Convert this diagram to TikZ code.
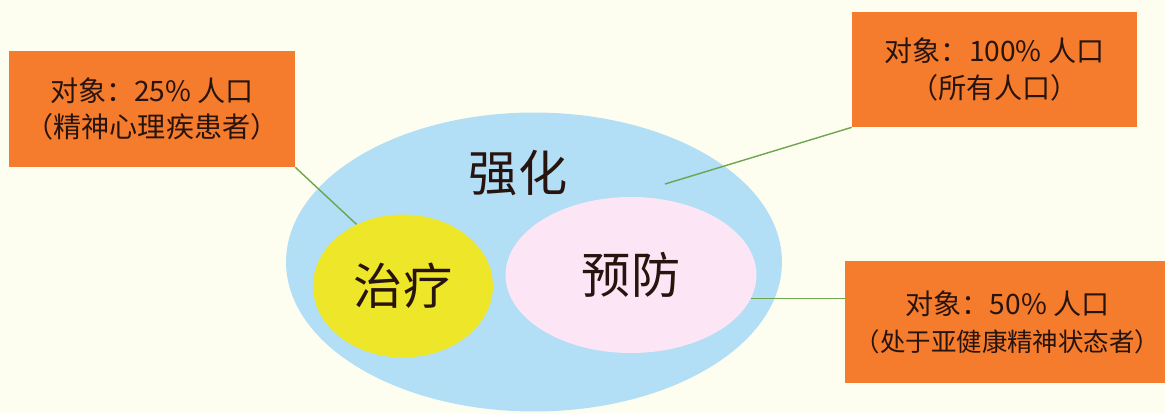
\documentclass[tikz,border=0pt]{standalone}
\usepackage{fontspec}
\setmainfont{Noto Sans CJK SC}
\usetikzlibrary{shapes.geometric}
\definecolor{bgcream}{RGB}{254,254,240}
\definecolor{skyblue}{RGB}{178,222,246}
\definecolor{lemon}{RGB}{238,230,40}
\definecolor{blush}{RGB}{252,230,246}
\definecolor{tangerine}{RGB}{244,124,44}
\definecolor{leaf}{RGB}{110,165,80}
\definecolor{ink}{RGB}{40,20,15}
\begin{document}
\begin{tikzpicture}[x=0.02cm, y=-0.02cm,
    target/.style={fill=tangerine, text=ink, align=center, inner sep=0pt,
      font=\fontsize{16}{21}\selectfont},
    zone/.style={ellipse, inner sep=0pt, text=ink, font=\fontsize{28}{32}\selectfont},
    link/.style={leaf, line width=0.8pt}]
    \fill[bgcream] (0, 0) rectangle (1165, 414);
    \useasboundingbox (0, 0) rectangle (1165, 414);

    \node[zone, fill=skyblue, minimum width=9.92cm, minimum height=5.98cm] (whole) at (534, 262) {};
    \node[text=ink, font=\fontsize{28}{32}\selectfont] (boost) at (518, 173) {强化};
    \node[zone, fill=lemon, minimum width=3.6cm, minimum height=2.86cm] (treat) at (403, 286) {治疗};
    \node[zone, fill=blush, minimum width=5.02cm, minimum height=3.12cm] (prevent) at (631, 275) {预防};

    \node[target, minimum width=5.72cm, minimum height=2.32cm] (quarter) at (152, 109)
      {对象：25\% 人口\\（精神心理疾患者）};
    \node[target, minimum width=5.7cm, minimum height=2.3cm] (all) at (994.5, 69.5)
      {对象：100\% 人口\\（所有人口）};
    \node[target, minimum width=6.5cm, minimum height=2.44cm] (half) at (1007.5, 322)
      {对象：50\% 人口\\{\fontsize{14.5}{21}\selectfont（处于亚健康精神状态者）}};

    \coordinate (inwhole) at (665, 184);
    \draw[link] (quarter.south east) -- (treat.127);
    \draw[link] (inwhole) -- (all.south west);
    \draw[link] (prevent.-11) -- (prevent.-11 -| half.west);
\end{tikzpicture}
\end{document}
